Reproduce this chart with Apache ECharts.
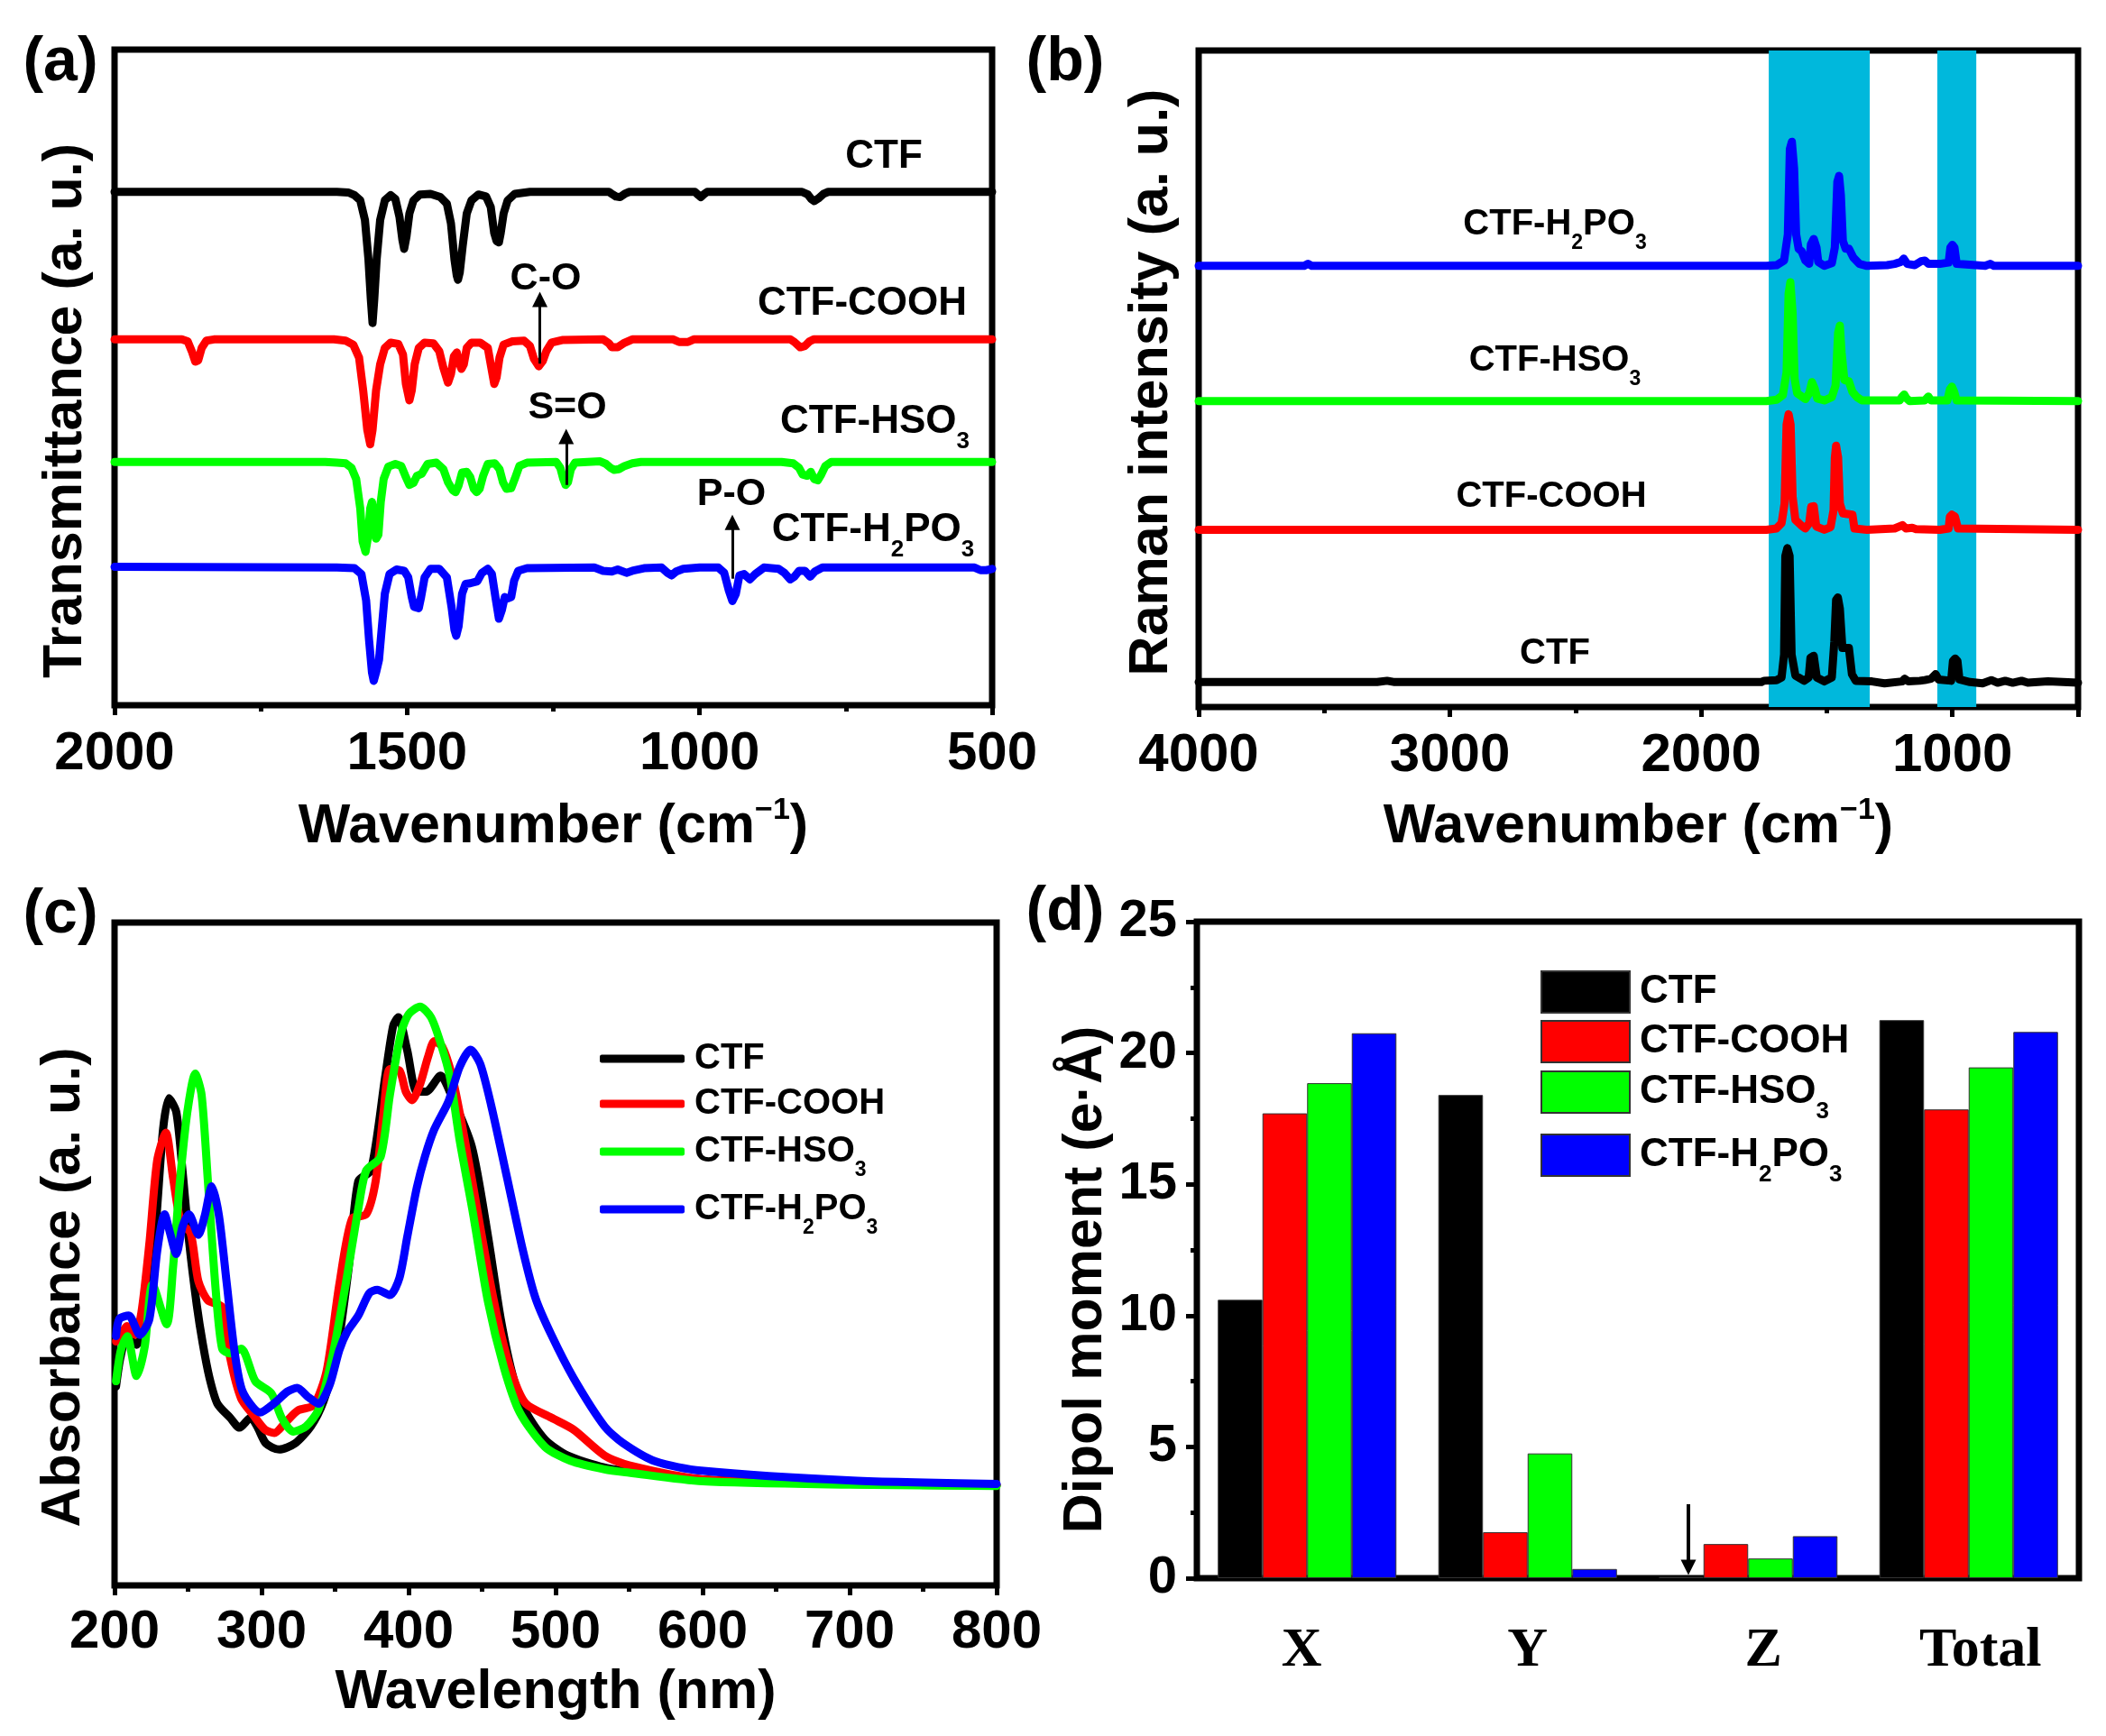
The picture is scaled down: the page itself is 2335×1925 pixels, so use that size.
<!DOCTYPE html>
<html><head><meta charset="utf-8">
<style>html,body{margin:0;padding:0;background:#fff}#c{width:2335px;height:1925px}</style>
<script src="https://cdn.jsdelivr.net/npm/echarts@6/dist/echarts.min.js"></script>
</head><body><div id="c"></div>
<script>
// ---------- (a) FT-IR: [wavenumber, transmittance a.u.]
const ftirCTF=[[2000,78.3],[1620,78.3],[1600,78.2],[1590,77.8],[1580,77],[1572,74],[1566,68],[1562,62],[1559,58.3],[1556,62],[1552,68],[1546,74],[1538,77],[1528,77.8],[1520,77.2],[1513,74.5],[1508,71],[1505,69.6],[1501,71.5],[1496,75],[1489,77],[1478,77.9],[1460,78],[1443,77.5],[1432,76.5],[1425,73.5],[1419,68],[1415,65.5],[1413,64.9],[1410,66],[1405,70],[1398,75],[1390,77],[1378,77.9],[1365,77.6],[1357,76],[1351,72],[1347,70.8],[1343,70.6],[1340,72],[1335,75],[1328,77],[1316,78],[1290,78.3],[1155,78.3],[1150,78],[1143,77.6],[1136,77.5],[1128,78],[1120,78.3],[1008,78.3],[1002,77.8],[998,77.5],[993,77.9],[987,78.3],[825,78.3],[815,77.9],[809,77.2],[804,76.9],[797,77.3],[788,78],[780,78.3],[500,78.3]];
const ftirCOOH=[[2000,55.8],[1885,55.8],[1875,55.5],[1868,54],[1862,52.4],[1857,52.6],[1851,54.5],[1843,55.6],[1830,55.8],[1625,55.8],[1605,55.6],[1592,55],[1582,53],[1575,48],[1568,42],[1563,39.8],[1559,42],[1553,48],[1546,52],[1538,54.5],[1528,55.3],[1515,55.1],[1507,53.5],[1502,49],[1496,46.5],[1492,48],[1487,52],[1480,54.5],[1470,55.3],[1455,55.2],[1445,54],[1438,51.5],[1430,49.2],[1425,50.5],[1420,53.2],[1415,53.8],[1410,52],[1407,51.3],[1403,52],[1398,54.5],[1390,55.3],[1375,55.3],[1362,54.5],[1357,52],[1351,49],[1347,50],[1342,53],[1335,55],[1320,55.5],[1300,55.6],[1290,54.8],[1283,52.8],[1275,51.7],[1268,52.5],[1262,54],[1253,55.3],[1235,55.7],[1165,55.8],[1155,55.2],[1150,54.6],[1140,54.6],[1130,55.2],[1115,55.8],[1045,55.8],[1035,55.4],[1020,55.4],[1010,55.8],[845,55.8],[838,55.4],[828,54.6],[820,54.8],[812,55.5],[805,55.8],[500,55.8]];
const ftirHSO3=[[2000,37.1],[1640,37.1],[1620,37],[1605,36.9],[1595,36.2],[1587,34.5],[1580,30],[1576,25],[1571,23.4],[1567,25.5],[1563,30],[1560,31],[1556,29],[1553,25.4],[1549,26],[1545,31],[1540,34.5],[1532,36.4],[1520,36.8],[1510,36.5],[1503,35],[1496,33.6],[1489,33.9],[1483,35],[1475,35.3],[1465,36.8],[1450,37],[1438,36],[1430,34],[1422,32.8],[1417,32.5],[1412,33.5],[1406,35.5],[1398,35.6],[1392,34.8],[1386,33],[1381,32.5],[1376,33],[1370,35],[1362,36.8],[1350,36.9],[1342,36],[1336,34],[1330,33],[1322,33.1],[1316,34.5],[1308,36.5],[1295,37],[1245,37.1],[1238,36.2],[1233,34.5],[1229,33.6],[1225,34],[1220,36],[1213,37],[1170,37.2],[1160,36.8],[1152,36.2],[1146,35.9],[1138,36],[1128,36.5],[1115,36.9],[1100,37.1],[860,37.1],[840,36.9],[830,36.2],[824,35.2],[816,35],[810,35.6],[804,34.5],[798,34.3],[792,35.2],[785,36.5],[775,37.1],[500,37.1]];
const ftirH2PO3=[[2000,21.1],[1620,21],[1590,20.9],[1578,20],[1570,16],[1565,10],[1560,5],[1557,3.7],[1553,5],[1548,6.9],[1544,11],[1538,17],[1530,20],[1518,20.7],[1505,20.5],[1498,19.5],[1492,16.5],[1488,15],[1484,14.9],[1480,14.8],[1476,16.5],[1470,19.5],[1460,20.8],[1445,20.8],[1432,19.5],[1424,15],[1419,11.5],[1416,10.6],[1412,12],[1406,17],[1400,18.5],[1392,18.6],[1380,18.9],[1372,20.2],[1362,20.8],[1355,20],[1349,16.5],[1343,13.2],[1338,14.5],[1333,16.5],[1328,16.3],[1322,16.5],[1317,19],[1310,20.5],[1295,20.9],[1180,21],[1165,20.5],[1150,20.4],[1140,20.7],[1125,20.2],[1115,20.5],[1095,20.9],[1065,21],[1055,20.2],[1048,19.8],[1040,20.4],[1028,20.8],[1000,21],[968,21],[958,20.2],[950,17.5],[944,15.9],[938,17],[932,19.8],[924,20],[914,19.2],[905,20],[890,21],[865,20.8],[855,20.2],[845,19.2],[838,19.6],[830,20.5],[820,20.5],[811,19.6],[803,20.4],[790,21],[530,21],[520,20.6],[510,20.6],[500,20.8]];
// arrows of panel (a): [wavenumber, from, to]
const ftirArrows=[[1273,52.1,61.9],[1228,33.6,41],[944,19.3,27.9]];
// ---------- (b) Raman: [wavenumber, intensity a.u.]
const ramanH2PO3=[[4000,67.2],[3580,67.2],[3565,67.5],[3550,67.2],[1740,67.2],[1700,67.3],[1670,68],[1655,72],[1647,85],[1639,86.1],[1630,82],[1622,72],[1612,69.8],[1600,69.4],[1585,68],[1570,67.5],[1563,70.5],[1552,71.3],[1541,70],[1534,67.8],[1510,67.2],[1480,67.6],[1468,70],[1458,80],[1451,80.9],[1444,78],[1436,71],[1425,69.8],[1412,69.8],[1395,68.5],[1370,67.5],[1340,67.2],[1260,67.3],[1230,67.5],[1205,67.8],[1194,68.3],[1180,67.5],[1150,67.3],[1125,67.9],[1110,68],[1095,67.5],[1050,67.5],[1015,67.7],[1008,70],[1000,70.4],[992,70],[983,67.5],[870,67.2],[850,67.5],[835,67.2],[500,67.2]];
const ramanHSO3=[[4000,46.6],[1740,46.6],[1700,46.8],[1675,47.5],[1660,51],[1652,63],[1645,64.7],[1636,60],[1628,50],[1618,47.8],[1600,47.3],[1585,46.9],[1570,47.8],[1559,49.5],[1548,48.5],[1538,47],[1510,46.7],[1480,47.2],[1465,49],[1455,57],[1448,58.1],[1441,54],[1430,49.8],[1412,49.6],[1398,48],[1380,47.2],[1360,46.7],[1210,46.7],[1200,47.3],[1192,47.6],[1182,47],[1170,46.6],[1110,46.7],[1096,47.3],[1085,46.7],[1020,46.7],[1010,48.4],[1002,48.8],[993,48],[983,46.7],[500,46.6]];
const ramanCOOH=[[4000,27],[1740,27],[1700,27.2],[1680,28],[1668,31],[1660,43],[1652,44.6],[1644,43],[1636,32],[1625,28.5],[1600,27.6],[1585,27.2],[1570,28],[1562,30.5],[1552,30.6],[1542,27.5],[1510,27],[1485,27.4],[1473,30],[1468,38],[1463,39.8],[1455,38],[1448,31],[1436,29.5],[1398,29.3],[1390,27.2],[1340,27],[1230,27.2],[1199,27.7],[1185,27.2],[1160,27.3],[1145,27.1],[1050,27],[1015,27.2],[1010,29],[1002,29.3],[990,29],[978,27.2],[500,27]];
const ramanCTF=[[4000,3.8],[3290,3.8],[3250,4],[3220,3.8],[1760,3.8],[1750,4],[1700,4.1],[1680,4.5],[1670,8],[1665,23],[1657,24.2],[1648,23],[1640,8],[1625,4.8],[1590,4],[1572,4.5],[1565,7.5],[1552,7.8],[1540,4.5],[1510,3.9],[1480,4.5],[1470,10],[1463,16.3],[1456,16.7],[1448,15],[1438,9],[1412,9],[1400,5],[1385,4],[1320,3.9],[1270,3.6],[1200,3.9],[1190,4.3],[1175,3.9],[1130,4],[1110,4.1],[1085,4.3],[1067,5],[1055,4.2],[1005,4],[998,7],[989,7.4],[980,7],[972,4.2],[930,3.8],[880,3.6],[845,4.1],[820,3.7],[790,4],[760,3.7],[725,4],[700,3.7],[660,3.8],[620,3.9],[500,3.7]];
// ---------- (c) UV-vis: [wavelength, absorbance a.u.]
const uvCTF=[[201,30],[204,34.4],[208.6,37.6],[215,36.3],[221.5,40.2],[228,54.2],[233,68.8],[237,73.5],[242,71.4],[246,63.1],[250.6,52.1],[256,42.2],[260,36.5],[264.6,31.3],[270,27.4],[278.6,25.3],[285,23.8],[292.6,25.3],[297,24],[303,21.4],[312,20.5],[322.7,21.4],[333.5,24],[342,27.7],[350.7,34.4],[359.3,48],[365.8,61],[374.4,62.6],[384,76.6],[389.5,84.4],[393,85.7],[399,80.8],[405.6,74.5],[412,74.5],[421.8,76.9],[428,74.5],[443,66.2],[454,52.7],[462.7,40.2],[471.3,31.3],[480,26.1],[492.8,22],[508,19.6],[533,17.8],[560,16.9],[600,16],[700,15.3],[800,15.1]];
const uvCOOH=[[201,36.8],[204,37.6],[208.6,39.1],[214,37.8],[218.3,41.2],[223.7,51.6],[229,64.1],[234.9,68.3],[239.8,61.5],[245.2,54.7],[251.7,53.2],[257,45.9],[263.5,43],[273.2,42],[278.6,34.4],[286.1,28.2],[294.7,25.6],[302.3,23.5],[308.7,23],[316.3,24.6],[324.9,26.4],[335.6,27.2],[344.3,32.4],[352.9,45.4],[361.5,55.3],[371.2,56],[377.6,61],[383,71.4],[387.3,77.9],[393.8,77.7],[398.1,74.5],[402.4,73.2],[407.8,75.6],[413.2,79.7],[417.5,82.1],[422.8,81.3],[429.3,77.1],[434.7,71.4],[443.3,61],[454,47.5],[462.7,38.1],[471.3,31.3],[479.9,27.4],[497.1,25.3],[512.2,23.5],[533.3,19.6],[550,18.1],[600,16],[700,15.3],[800,15.1]];
const uvHSO3=[[201,30.8],[204.3,35.5],[208.6,37.6],[215,31.6],[220.5,36],[225.8,45.4],[235.5,39.4],[239.8,48],[244.1,60],[249.5,71.4],[254.9,77.2],[259.2,74],[263.5,61],[268.9,44.3],[273.2,35.7],[278.6,35],[286.1,35.7],[295.8,30.8],[306.6,29],[314.1,25.1],[321.7,23.2],[330.3,24],[338.9,26.6],[348.6,35],[357.2,45.4],[365.8,56.8],[371.2,62.6],[380.9,64.6],[387.3,74],[394.9,83.4],[400.2,86.2],[407.8,87.3],[415.3,85.7],[421.8,81.8],[428.2,76.6],[434.7,67.2],[443.3,56.8],[454,42.8],[464.8,32.9],[475.6,26.1],[492.8,20.9],[510,18.8],[533.3,17.5],[550,17],[600,15.7],[700,15.2],[800,15]];
const uvH2PO3=[[201,37.6],[203.2,40.2],[209.7,40.7],[217.2,37.8],[223.7,40.2],[229.1,50.6],[234,56],[237.7,53.2],[242,50],[246.3,54.2],[250.6,56],[257,52.9],[261.4,55.8],[266.1,60.2],[271,55.8],[276.4,45.4],[281.8,35],[287.2,29.2],[299,26.1],[309.8,27.7],[317.3,29.2],[324.2,29.8],[331.3,28.5],[338.9,27.4],[346.4,30.3],[352.9,35.5],[358.3,38.3],[365.8,40.7],[373.3,44.1],[378.7,44.6],[387.3,43.8],[393.8,46.4],[399.2,52.7],[405.6,60],[411,64.6],[417.5,68.8],[427.1,73],[434.7,78.2],[442.2,80.8],[448.7,78.7],[456.2,72.4],[467,61.5],[477.7,50.6],[486.4,43.3],[497.1,37.8],[512.2,31.3],[533.3,24],[545.7,21.5],[568,18.7],[599,17.3],[702,15.8],[800,15.3]];
// ---------- (d) Dipole moment
const dipoleAxes=['X','Y','Z','Total'];
const dipoleCTF=[10.6,18.4,0.05,21.25];
const dipoleCOOH=[17.7,1.75,1.3,17.85];
const dipoleHSO3=[18.85,4.75,0.75,19.45];
const dipoleH2PO3=[20.75,0.35,1.6,20.8];

const FONT='Liberation Sans';
const colors={CTF:'#000000',COOH:'#ff0000',HSO3:'#00ff00',H2PO3:'#0000ff'};
const names=['CTF','CTF-COOH','CTF-HSO3','CTF-H2PO3'];
const cols=[colors.CTF,colors.COOH,colors.HSO3,colors.H2PO3];

const richOf=n=>n.replace('H2PO3','H{s|2}PO{s|3}').replace('HSO3','HSO{s|3}');
function rtext(n){ // wraps formula text in rich tokens
  return n.split(/(\{s\|\d\})/).filter(Boolean).map(p=>p.startsWith('{')?p:'{b|'+p+'}').join('');
}
const labelRich=(size,sub)=>{
  const H=Math.round(size*1.6);
  return {
    b:{fontSize:size,fontWeight:'bold',fontFamily:FONT,color:'#000',fill:'#000',lineHeight:H},
    s:{fontSize:sub,fontWeight:'bold',fontFamily:FONT,color:'#000',fill:'#000',verticalAlign:'bottom',lineHeight:H}
  };
};
function note(text,x,y,size){
  return {type:'text',z:100,style:{x:x,y:y,text:rtext(richOf(text)),align:'center',verticalAlign:'middle',rich:labelRich(size,Math.round(size*0.58)),font:'bold '+size+'px '+FONT,fill:'#000'}};
}
const panelLabel=(t,x,y)=>({type:'text',z:100,style:{x:x,y:y,text:t,align:'center',verticalAlign:'middle',font:'bold 68px '+FONT,fill:'#000'}});

const NS=61;
const xnameRich={t:{fontSize:NS,fontWeight:'bold',fontFamily:FONT,color:'#000',lineHeight:70},u:{fontSize:34,fontWeight:'bold',fontFamily:FONT,color:'#000',verticalAlign:'top',lineHeight:70,padding:[0,0,24,0]}};
const nameStyle={fontSize:NS,fontWeight:'bold',fontFamily:FONT,color:'#000'};
const labelStyle={show:true,fontSize:60,fontWeight:'bold',fontFamily:FONT,color:'#000',formatter:v=>String(v)};

const grids=[
 {left:127,top:55,width:973,height:727},
 {left:1329,top:56,width:975,height:728},
 {left:127,top:1023,width:978,height:735},
 {left:1327,top:1022,width:978,height:728}
].map(g=>Object.assign(g,{show:true,borderColor:'#000',borderWidth:7,containLabel:false,backgroundColor:'transparent'}));

const xAxis=[
 {gridIndex:0,type:'value',inverse:true,min:500,max:2000,interval:500,splitLine:{show:false},
  axisLine:{show:false},axisTick:{show:true,length:11,lineStyle:{width:5,color:'#000'}},minorTick:{show:true,splitNumber:2,length:7,lineStyle:{width:5,color:'#000'}},
  axisLabel:Object.assign({},labelStyle,{margin:24,hideOverlap:false}),
  name:'{t|Wavenumber (cm}{u|\u22121}{t|)}',nameLocation:'middle',nameGap:100,nameTextStyle:{rich:xnameRich}},
 {gridIndex:1,type:'value',inverse:true,min:500,max:4000,splitLine:{show:false},
  axisLine:{show:false},axisTick:{show:true,length:11,lineStyle:{width:5,color:'#000'},customValues:[500,1000,2000,3000,4000]},minorTick:{show:false},
  axisLabel:Object.assign({},labelStyle,{margin:24,customValues:[1000,2000,3000,4000]}),
  name:'{t|Wavenumber (cm}{u|\u22121}{t|)}',nameLocation:'middle',nameGap:98,nameTextStyle:{rich:xnameRich}},
 {gridIndex:2,type:'value',min:200,max:800,interval:100,splitLine:{show:false},
  axisLine:{show:false},axisTick:{show:true,length:11,lineStyle:{width:5,color:'#000'}},minorTick:{show:true,splitNumber:2,length:7,lineStyle:{width:5,color:'#000'}},
  axisLabel:Object.assign({},labelStyle,{margin:22}),
  name:'Wavelength (nm)',nameLocation:'middle',nameGap:89,nameTextStyle:nameStyle},
 {gridIndex:3,type:'category',data:dipoleAxes,axisLine:{show:false},axisTick:{show:false},
  axisLabel:{show:true,interval:0,hideOverlap:false,margin:50,fontFamily:'Liberation Serif',fontWeight:'bold',fontSize:62,color:'#000',
   formatter:v=>({X:'{a|X}',Y:'{b|Y}',Z:'{c|Z}',Total:'{d|Total}'})[v],
   rich:{a:{fontFamily:'Liberation Serif',fontWeight:'bold',fontSize:62,color:'#000',padding:[0,12,0,0]},
         b:{fontFamily:'Liberation Serif',fontWeight:'bold',fontSize:62,color:'#000'},
         c:{fontFamily:'Liberation Serif',fontWeight:'bold',fontSize:62,color:'#000',padding:[0,0,0,34]},
         d:{fontFamily:'Liberation Serif',fontWeight:'bold',fontSize:62,color:'#000',padding:[0,0,0,26]}}}},
 {gridIndex:1,type:'value',position:'bottom',inverse:true,min:500,max:4000,show:true,splitLine:{show:false},axisLine:{show:false},
  axisLabel:{show:false},axisTick:{show:true,length:7,lineStyle:{width:5,color:'#000'},customValues:[1500,2500,3500]}}
];
const yOf=(i,name,gap,pad)=>({gridIndex:i,type:'value',min:0,max:100,splitLine:{show:false},axisLine:{show:false},axisTick:{show:false},axisLabel:{show:false},
  name:name,nameLocation:'middle',nameGap:gap,nameMoveOverlap:false,nameTextStyle:Object.assign({},nameStyle,{padding:pad})});
const yAxis=[
 yOf(0,'Transmittance (a. u.)',23,[0,74,0,0]),
 yOf(1,'Raman intensity (a. u.)',21,[0,8,0,0]),
 yOf(2,'Absorbance (a. u.)',25,[0,74,0,0]),
 {gridIndex:3,type:'value',min:0,max:25,interval:5,splitLine:{show:false},axisLine:{show:false},
  axisTick:{show:true,length:12,lineStyle:{width:5,color:'#000'}},minorTick:{show:true,splitNumber:2,length:7,lineStyle:{width:5,color:'#000'}},
  axisLabel:Object.assign({},labelStyle,{margin:22,fontSize:58}),
  name:'Dipol moment (e\u00B7\u00C5)',nameLocation:'middle',nameGap:92,nameMoveOverlap:false,nameTextStyle:Object.assign({},nameStyle,{padding:[0,66,0,0]})}
];
const lineSer=(name,data,color,ax,smooth,extra)=>Object.assign({type:'line',name:name,data:data,xAxisIndex:ax,yAxisIndex:ax,symbol:'none',smooth:smooth,color:color,
   lineStyle:{color:color,width:9,cap:'round',join:'round'},silent:true,animation:false,clip:true},extra||{});

const series=[];
[ftirCTF,ftirCOOH,ftirHSO3,ftirH2PO3].forEach((d,i)=>series.push(lineSer('a·'+names[i],d,cols[i],0,false)));
series.push({type:'line',name:'arrows',xAxisIndex:0,yAxisIndex:0,data:[],symbol:'none',silent:true,animation:false,z:20,
  markLine:{silent:true,animation:false,symbol:['none','triangle'],symbolSize:17,label:{show:false},lineStyle:{color:'#000',width:3,type:'solid'},
    data:ftirArrows.map(a=>[{coord:[a[0],a[1]]},{coord:[a[0],a[2]]}])}});
// Raman bands sit behind the traces
series.push({type:'line',name:'bands',xAxisIndex:1,yAxisIndex:1,data:[],symbol:'none',silent:true,animation:false,z:1,
  markArea:{silent:true,animation:false,itemStyle:{color:'#00b8dc'},data:[[{xAxis:1731},{xAxis:1329}],[{xAxis:1060},{xAxis:905}]]}});
[ramanCTF,ramanCOOH,ramanHSO3,ramanH2PO3].forEach((d,i)=>series.push(lineSer('b·'+names[i],d,cols[i],1,false,{z:5})));
[uvCTF,uvCOOH,uvHSO3,uvH2PO3].forEach((d,i)=>series.push(lineSer('c·'+names[i],d,cols[i],2,0.25)));
[dipoleCTF,dipoleCOOH,dipoleHSO3,dipoleH2PO3].forEach((d,i)=>series.push({type:'bar',name:'d·'+names[i],data:d,xAxisIndex:3,yAxisIndex:3,barGap:0,barCategoryGap:'19%',silent:true,animation:false,
   color:cols[i],itemStyle:{color:cols[i],borderColor:'#333',borderWidth:1}}));
series.push({type:'line',name:'arrowd',xAxisIndex:3,yAxisIndex:3,data:[],symbol:'none',silent:true,animation:false,z:20,
  markLine:{silent:true,animation:false,symbol:['none','triangle'],symbolSize:17,label:{show:false},lineStyle:{color:'#000',width:4,type:'solid'},
    data:[[{x:1872,y:1668},{x:1872,y:1738}]]}});

const legendFmt=n=>rtext(richOf(n.slice(2)));
const mkLegend=(panel,i,left,top,w,h,size,icon)=>Object.assign({
  show:true,data:[panel+'·'+names[i]],left:left,top:top,orient:'horizontal',padding:0,itemGap:0,itemWidth:w,itemHeight:h,selectedMode:false,
  formatter:legendFmt,textStyle:{rich:labelRich(size,Math.round(size*0.58)),padding:[0,0,0,6]}},icon?{icon:icon}:{});
const legend=[
 mkLegend('c',0,665,1154,94,9,40,'roundRect'),mkLegend('c',1,665,1204,94,9,40,'roundRect'),mkLegend('c',2,665,1257,94,9,40,'roundRect'),mkLegend('c',3,665,1321,94,9,40,'roundRect'),
 mkLegend('d',0,1708,1076,98,46,44,'rect'),mkLegend('d',1,1708,1131,98,46,44,'rect'),mkLegend('d',2,1708,1187,98,46,44,'rect'),mkLegend('d',3,1708,1257,98,46,44,'rect')
];
const graphic={elements:[
 panelLabel('(a)',67,70),panelLabel('(b)',1181,70),panelLabel('(c)',67,1015),panelLabel('(d)',1181,1012),
 note('CTF',980,174,44),note('CTF-COOH',956,337,44),note('CTF-HSO3',970,468,44),note('CTF-H2PO3',968,588,44),
 note('C-O',605,309,43),note('S=O',629,452,43),note('P-O',811,548,43),
 note('CTF-H2PO3',1724,249,40),note('CTF-HSO3',1724,400,40),note('CTF-COOH',1720,551,40),note('CTF',1724,725,40)
]};
const chart=echarts.init(document.getElementById('c'),null,{renderer:'canvas',width:2335,height:1925});
chart.setOption({animation:false,backgroundColor:'#fff',grid:grids,xAxis:xAxis,yAxis:yAxis,series:series,legend:legend,graphic:graphic});
</script></body></html>
